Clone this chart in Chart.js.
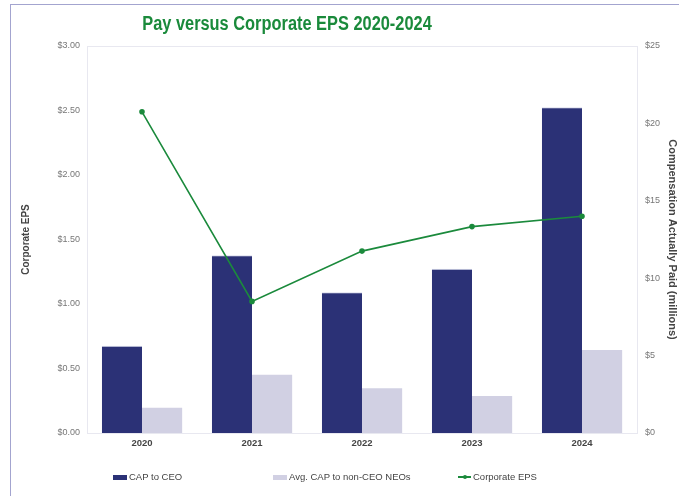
<!DOCTYPE html>
<html>
<head>
<meta charset="utf-8">
<title>Pay versus Corporate EPS</title>
<script src="https://cdn.jsdelivr.net/npm/chart.js@4"></script>
<style>
  html, body { margin: 0; padding: 0; background: #fff; }
  #wrap { position: relative; width: 679px; height: 496px; overflow: hidden; font-family: "Liberation Sans", Arial, sans-serif; }
  #frame { position: absolute; left: 10px; top: 4px; width: 800px; height: 600px; border-left: 1px solid #a3a4cf; border-top: 1px solid #a3a4cf; }
  #title { position: absolute; left: 0; top: 12px; width: 574px; text-align: center; color: #1a8a3b;
           font: bold 19.5px "Liberation Sans", Arial, sans-serif; transform: scaleX(0.84); }
  #chartBox { position: absolute; left: 0; top: 0; width: 679px; height: 496px; }
  .leg { position: absolute; top: 470px; font-size: 9.5px; color: #444; white-space: nowrap; line-height: 14px; }
  .leg i { display: inline-block; vertical-align: middle; margin-right: 2px; }
</style>
</head>
<body>
<div id="wrap">
  <div id="frame"></div>
  <div id="chartBox"><canvas id="payChart" width="679" height="496"></canvas></div>
  <div id="title">Pay versus Corporate EPS 2020-2024</div>
  <div id="legend"></div>
</div>
<script>
const years = ['2020', '2021', '2022', '2023', '2024'];
const capCeo = [5.64, 11.48, 9.09, 10.61, 21.04];      // $ millions
const capNeo = [1.63, 3.77, 2.89, 2.39, 5.36];         // $ millions
const corporateEps = [2.49, 1.02, 1.41, 1.60, 1.68];   // $ per share
const epsTicks = [0, 0.5, 1, 1.5, 2, 2.5, 3];
const capTicks = [0, 5, 10, 15, 20, 25];

const navy = '#2b3176';
const lilac = '#d1d0e3';
const green = '#1b8a3c';

// thin box around the plotting area
const plotFrame = {
  id: 'plotFrame',
  beforeDatasetsDraw(chart) {
    const a = chart.chartArea;
    const c = chart.ctx;
    c.save();
    c.strokeStyle = '#e8e8f0';
    c.lineWidth = 1;
    c.strokeRect(Math.round(a.left) + 0.5, Math.round(a.top) + 0.5, Math.round(a.right - a.left), Math.round(a.bottom - a.top));
    c.restore();
  }
};

const tickFont = { family: 'Liberation Sans, Arial, sans-serif', size: 9 };

const payChart = new Chart(document.getElementById('payChart'), {
  type: 'bar',
  data: {
    labels: years,
    datasets: [
      {
        type: 'line',
        label: 'Corporate EPS',
        data: corporateEps,
        yAxisID: 'y',
        borderColor: green,
        backgroundColor: green,
        borderWidth: 1.6,
        pointRadius: 2,
        pointHoverRadius: 3,
        tension: 0,
        fill: false,
        order: 0
      },
      {
        label: 'CAP to CEO',
        data: capCeo,
        yAxisID: 'y1',
        backgroundColor: navy,
        borderColor: 'rgba(200,202,228,0.7)',
        borderWidth: { top: 1, left: 0, right: 0, bottom: 0 },
        categoryPercentage: 0.73,
        barPercentage: 1,
        order: 1
      },
      {
        label: 'Avg. CAP to non-CEO NEOs',
        data: capNeo,
        yAxisID: 'y1',
        backgroundColor: lilac,
        categoryPercentage: 0.73,
        barPercentage: 1,
        order: 1
      }
    ]
  },
  options: {
    responsive: false,
    animation: false,
    layout: { padding: { top: 46, left: 20, right: 0, bottom: 40 } },
    plugins: {
      legend: { display: false },
      title: { display: false },
      tooltip: { enabled: true }
    },
    scales: {
      x: {
        grid: { display: false, drawTicks: false },
        border: { display: false },
        ticks: { color: '#444', padding: 5, font: { family: 'Liberation Sans, Arial, sans-serif', size: 9.5, weight: 'bold' } },
        afterFit: (s) => { s.height = 23; }
      },
      y: {
        position: 'left',
        min: 0,
        max: 3,
        afterBuildTicks: (s) => { s.ticks = epsTicks.map(v => ({ value: v })); },
        grid: { display: false, drawTicks: false },
        border: { display: false },
        ticks: { color: '#777', padding: 7, font: tickFont, callback: (v) => '$' + Number(v).toFixed(2) },
        title: { display: true, text: 'Corporate EPS', color: '#444', padding: 0,
                 font: { family: 'Liberation Sans, Arial, sans-serif', size: 10, weight: 'bold' } },
        afterFit: (s) => { s.width = 67; }
      },
      y1: {
        position: 'right',
        min: 0,
        max: 25,
        afterBuildTicks: (s) => { s.ticks = capTicks.map(v => ({ value: v })); },
        grid: { display: false, drawTicks: false },
        border: { display: false },
        ticks: { color: '#777', padding: 8, font: tickFont, callback: (v) => '$' + v },
        title: { display: true, text: 'Compensation Actually Paid (millions)', color: '#444', padding: 0,
                 font: { family: 'Liberation Sans, Arial, sans-serif', size: 11, weight: 'bold' } },
        afterFit: (s) => { s.width = 42; }
      }
    }
  },
  plugins: [plotFrame]
});

// legend laid out in fixed slots under the axis: bars first, then the EPS line
const legendSlots = [113, 273, 458];
const legendOrder = [1, 2, 0];
const legendEl = document.getElementById('legend');
legendOrder.forEach((idx, k) => {
  const ds = payChart.data.datasets[idx];
  const item = document.createElement('div');
  item.className = 'leg';
  item.style.left = legendSlots[k] + 'px';
  let swatch;
  if (ds.type === 'line') {
    swatch = '<i style="width:13px;height:2px;background:' + ds.borderColor + ';position:relative">' +
      '<b style="position:absolute;left:4.5px;top:-1.5px;width:4px;height:4px;border-radius:2px;background:' + ds.borderColor + '"></b></i>';
  } else {
    swatch = '<i style="width:14px;height:5px;background:' + ds.backgroundColor + '"></i>';
  }
  item.innerHTML = swatch + ds.label;
  legendEl.appendChild(item);
});
</script>
</body>
</html>
